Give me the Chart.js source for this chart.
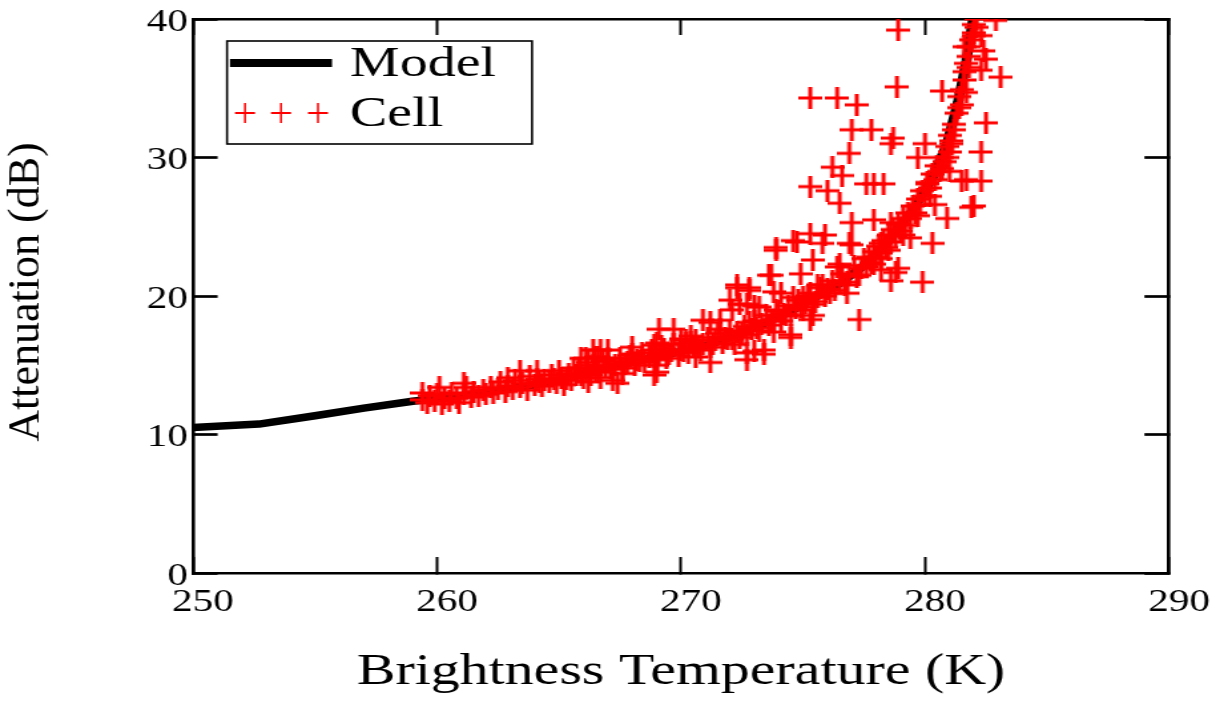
<!DOCTYPE html>
<html>
<head>
<meta charset="utf-8">
<script src="https://cdn.jsdelivr.net/npm/chart.js@4.4.1/dist/chart.umd.min.js"></script>
<style>
html,body{margin:0;padding:0;background:#fff;overflow:hidden;width:1228px;height:703px;}
#c{position:absolute;left:0;top:0;transform-origin:0 0;}
</style>
</head>
<body>
<canvas id="c" width="923" height="703"></canvas>
<script>
// ---------- data ----------
const seriesNames = ['Model', 'Cell'];
const xTitle = 'Brightness Temperature (K)';
const yTitle = 'Attenuation (dB)';
const xTickValues = [250, 260, 270, 280, 290];
const yTickValues = [0, 10, 20, 30, 40];

const modelTemp  = [250, 252.7, 255, 257, 259, 261, 263, 265, 267, 269, 271, 272.5, 273.5, 274.5, 275.5, 276.5, 277.5, 278.5, 279.5, 280.3, 280.9, 281.35, 281.7, 281.97];
const modelAtten = [10.5, 10.75, 11.35, 11.9, 12.4, 12.8, 13.3, 13.9, 14.8, 15.6, 16.4, 17.3, 18.1, 18.9, 19.9, 20.9, 22.2, 24.0, 26.2, 28.5, 31.0, 34.0, 37.0, 40.0];

// cell measurements [temperature K, attenuation dB]
const cellPoints = [
 [259.4,12.5],[259.6,12.3],[259.7,12.8],[259.9,12.4],[260.0,12.9],[260.2,12.2],[260.3,12.6],[260.5,12.4],[260.6,13.0],[260.8,12.6],
 [260.9,12.3],[261.1,12.9],[261.2,13.4],[261.4,12.7],[261.5,13.1],[261.7,12.8],[261.9,13.2],[262.0,12.9],[262.2,13.4],[262.3,13.0],
 [262.5,13.3],[262.6,13.8],[262.8,13.1],[262.9,13.5],[263.1,13.3],[263.2,13.9],[263.4,13.4],[263.5,13.7],[263.7,13.2],[263.8,14.2],
 [264.0,13.6],[264.1,14.0],[264.3,13.5],[264.4,13.9],
 [260.1,13.4],[261.1,13.7],[262.9,14.1],[263.4,14.6],[264.1,14.6],[265.0,14.6],[259.4,13.0],
 [264.6,13.8],[264.7,14.3],[264.9,13.7],[265.1,14.1],[265.2,13.6],[265.4,14.4],[265.5,13.9],[265.7,14.3],[265.8,14.8],[266.0,14.1],
 [266.1,14.6],[266.3,14.3],[266.4,15.0],[266.6,14.5],[266.7,14.1],[266.9,14.9],[267.0,15.3],[267.2,14.7],[267.3,15.0],[267.5,15.5],
 [267.6,14.8],[267.8,15.2],[267.9,15.7],[268.1,15.0],[268.2,15.4],[268.4,15.9],[268.5,15.2],[268.7,15.6],[268.8,16.1],[269.0,15.4],
 [269.1,15.8],[269.3,16.2],[269.4,15.5],[269.6,16.0],[269.7,16.5],[269.9,15.7],[270.0,16.1],[270.2,16.6],[270.3,15.9],[270.5,16.3],
 [270.6,16.8],[270.8,16.1],[270.9,16.5],[271.1,17.0],[271.2,16.3],[271.4,16.8],[271.5,17.3],[271.7,16.6],[271.8,17.0],[272.0,17.5],
 [266.4,16.1],[266.7,16.1],[267.0,16.1],[266.6,15.6],[268.9,14.3],[269.0,14.5],[267.2,13.9],[267.4,13.7],[269.1,17.6],[269.7,17.6],
 [270.9,18.25],[271.6,18.25],[271.2,15.2],[272.7,15.4],[273.4,16.1],[274.5,17.0],[265.9,15.5],[266.2,15.2],[268.0,16.3],[270.4,17.1],
 [272.1,16.9],[272.3,17.4],[272.4,17.0],[272.6,17.8],[272.7,17.2],[272.9,17.6],[273.0,18.2],[273.2,17.5],[273.3,18.0],[273.5,18.6],
 [273.6,17.9],[273.8,18.3],[273.9,19.0],[274.1,18.2],[274.2,18.7],[274.4,19.3],[274.5,18.6],[274.7,19.1],[274.8,19.7],[275.0,19.0],
 [275.1,19.5],[275.3,20.2],[275.4,19.4],[275.6,19.9],[275.7,20.6],[275.9,20.0],[276.0,20.5],[276.2,21.1],[276.3,20.4],[276.5,21.0],
 [276.6,21.6],[276.8,21.0],[276.9,21.5],[277.1,22.2],[277.2,21.4],[277.4,22.0],[277.5,22.7],
 [271.2,18.1],[272.0,19.7],[272.1,19.0],[272.3,20.8],[272.8,20.4],[273.6,21.5],[273.7,21.5],[274.1,20.2],[274.9,21.6],[274.5,17.2],
 [275.3,18.3],[277.3,18.3],[275.4,22.6],[276.4,22.1],[276.5,22.3],[273.9,23.5],[274.75,23.9],[275.3,24.5],[275.8,23.8],[276.9,23.8],
 [278.2,23.8],[280.3,23.8],[273.9,23.3],[272.4,19.4],
 [277.6,22.1],[277.7,22.8],[277.8,22.4],[277.9,23.2],[278.0,22.8],[278.1,23.6],[278.2,23.1],[278.3,24.0],[278.4,23.5],[278.5,24.4],
 [278.6,23.9],[278.7,24.8],[278.8,24.3],[278.9,25.2],[279.0,24.7],[279.1,25.6],[279.2,25.1],[279.3,26.0],[279.4,25.6],[279.5,26.5],
 [279.6,26.0],[279.7,27.0],[279.8,26.6],[279.9,27.6],[280.0,27.2],[280.1,28.1],[280.2,27.8],[280.3,28.8],[280.4,28.4],[280.5,29.4],
 [280.6,29.0],[280.7,30.0],[280.8,29.7],[280.9,30.8],[281.0,30.4],[281.0,31.6],[281.1,31.2],[281.2,32.4],[281.2,32.0],[281.3,33.2],
 [281.4,33.6],[281.4,34.4],[281.5,34.9],[281.6,35.6],[281.6,36.2],[281.7,36.8],[281.8,37.3],[281.8,38.0],[281.9,38.5],[282.0,39.0],
 [282.0,39.6],[282.1,40.0],
 [278.9,39.2],[282.1,39.4],[282.9,39.9],[282.0,38.8],[282.3,38.8],[281.6,38.0],[282.4,37.7],[282.5,37.1],[282.3,36.3],[283.1,35.8],
 [278.85,35.1],[280.7,34.8],[281.7,34.7],[282.5,32.5],[278.6,31.0],[280.0,31.0],[279.7,30.0],[280.9,30.0],[282.3,30.4],[281.5,28.3],
 [282.3,28.3],[280.1,28.2],[278.3,28.1],[276.9,30.3],[276.2,29.3],[276.6,28.7],[275.3,27.9],[276.0,27.6],[277.6,28.1],[277.9,28.1],
 [276.5,26.7],[281.7,28.4],[281.9,26.4],[282.0,26.5],[277.0,25.3],[277.9,25.5],[278.6,25.3],[280.9,25.6],[278.8,21.7],[278.9,22.0],
 [279.9,21.0],[278.6,21.1],[272.3,20.6],[272.8,20.6],[278.2,22.7],
 [277.2,33.8],[276.4,34.3],[275.3,34.3],[277.8,32.0],[277.0,32.0],[278.7,31.4],[274.6,24.0],[275.9,24.4],[277.0,23.7],
 [273.8,20.3],[272.7,19.4],[273.0,19.3],[273.2,19.2],[274.6,19.9],[275.0,19.9],[275.6,20.8],[275.8,20.8],[268.9,16.45],[269.0,16.6],
 [270.0,16.9],[270.2,16.8],[266.1,15.5],[266.5,15.6],[267.0,15.5],[272.7,15.9],[273.0,16.0],[273.4,15.8],
 [264.2,13.8],[264.8,14.0],[265.3,14.0],[265.9,14.3],[266.5,14.6],[267.1,14.8],[267.7,15.1],[268.3,15.3],[268.9,15.6],[269.5,15.8],
 [270.1,16.0],[270.7,16.3],[271.3,16.5],[271.9,16.9],[272.5,17.3],[273.1,17.7],[273.7,18.2],[274.3,18.6],[274.9,19.2],[275.5,19.6],
 [276.1,20.2],[276.7,20.8],[277.3,21.5],[277.9,22.3],[278.5,23.3],[279.1,24.4],[279.7,25.8],[280.2,27.2],[280.7,29.2],[281.1,31.0],
 [281.5,33.8],[281.8,36.5],
 [265.6,14.8],[266.8,15.3],[268.0,15.8],[269.2,16.4],[270.4,16.7],[271.6,17.6],[272.8,18.1],[274.0,18.9],[275.2,20.0],
 [266.2,13.8],[267.6,14.4],[269.0,15.0],[270.6,15.6],[272.2,16.5],[273.8,17.4],[275.4,18.6],[276.8,20.2],[278.2,21.9],[279.4,24.2],
 [280.4,26.6],[281.0,29.0]
];

// ---------- rendering ----------
const S = 1228 / 923;               // horizontal stretch of the reference figure
const canvas = document.getElementById('c');
canvas.style.transform = 'scaleX(' + S + ')';

const SERIF = '"Liberation Serif", "Times New Roman", serif';
Chart.defaults.font.family = SERIF;
Chart.defaults.color = '#000';

// cross marker (vertical bar gets widened by the stretch)
const cross = document.createElement('canvas');
cross.width = 18; cross.height = 22;
(function () {
  const g = cross.getContext('2d');
  g.fillStyle = '#ff0000';
  g.fillRect(0, 9.5, 18, 3);
  g.fillRect(7.5, 0, 3, 22);
})();

const overlay = {
  id: 'overlay',
  afterDraw(chart) {
    const ctx = chart.ctx;
    const ca = chart.chartArea;
    // y axis title, drawn unstretched
    ctx.save();
    ctx.fillStyle = '#000';
    ctx.font = '44px ' + SERIF;
    ctx.textAlign = 'center';
    ctx.textBaseline = 'middle';
    ctx.translate(27 / S, (ca.top + ca.bottom) / 2 - 4);
    ctx.scale(1 / S, 1);
    ctx.rotate(-Math.PI / 2);
    ctx.fillText(yTitle, 0, 0);
    ctx.restore();

    // legend
    const ds = chart.data.datasets;
    const model = ds.find(d => d.label === seriesNames[0]);
    const cell = ds.find(d => d.label === seriesNames[1]);
    ctx.save();
    ctx.fillStyle = '#fff';
    const bx = 227 / S, by = 41, bw = (532 - 227) / S, bh = 103;
    ctx.fillRect(bx, by, bw, bh);
    ctx.strokeStyle = '#000';
    ctx.lineWidth = 1.6;
    ctx.strokeRect(bx, by, bw, bh);
    // model sample
    ctx.strokeStyle = model.borderColor;
    ctx.lineWidth = 8;
    ctx.lineCap = 'butt';
    ctx.beginPath();
    ctx.moveTo(230 / S, 63);
    ctx.lineTo(332 / S, 63);
    ctx.stroke();
    // cell sample: three crosses
    ctx.strokeStyle = cell.borderColor;
    [245, 281, 318].forEach(cx => {
      const x = cx / S, y = 113;
      ctx.lineWidth = 2;
      ctx.beginPath(); ctx.moveTo(x - 7.5, y); ctx.lineTo(x + 7.5, y); ctx.stroke();
      ctx.lineWidth = 1.5;
      ctx.beginPath(); ctx.moveTo(x, y - 10); ctx.lineTo(x, y + 10); ctx.stroke();
    });
    ctx.fillStyle = '#000';
    ctx.font = '42px ' + SERIF;
    ctx.textAlign = 'left';
    ctx.textBaseline = 'alphabetic';
    ctx.fillText(model.label, 350 / S, 76);
    ctx.fillText(cell.label, 350 / S, 126);
    ctx.restore();
  }
};

function zeroPad(s) { s.paddingLeft = 0; s.paddingRight = 0; s.paddingTop = 0; s.paddingBottom = 0; }

const AXW = 2.6;
function edgeAxis(pos, tickLen, tickW, valuesArr) {
  const horiz = pos === 'top' || pos === 'bottom';
  return {
    type: 'linear', position: pos,
    min: valuesArr[0], max: valuesArr[valuesArr.length - 1],
    afterBuildTicks: s => { s.ticks = valuesArr.map(v => ({value: v})); },
    afterFit: s => { if (horiz) s.height = 0; else s.width = 0; zeroPad(s); },
    ticks: {display: false},
    grid: {drawOnChartArea: false, drawTicks: true, tickLength: tickLen, tickWidth: tickW, tickColor: '#000', color: '#000'},
    border: {display: true, color: '#000', width: AXW}
  };
}

new Chart(canvas, {
  type: 'scatter',
  data: {
    datasets: [
      {
        label: seriesNames[1],
        data: cellPoints.map(p => ({x: p[0], y: p[1]})),
        pointStyle: cross,
        pointRadius: 10,
        borderColor: '#ff0000',
        backgroundColor: '#ff0000',
        order: 0
      },
      {
        label: seriesNames[0],
        data: modelTemp.map((t, i) => ({x: t, y: modelAtten[i]})),
        showLine: true,
        pointRadius: 0,
        borderColor: '#000000',
        backgroundColor: '#000000',
        borderWidth: 7.5,
        borderCapStyle: 'butt',
        borderJoinStyle: 'round',
        tension: 0,
        order: 1
      }
    ]
  },
  options: {
    responsive: false,
    devicePixelRatio: 1,
    animation: false,
    events: [],
    layout: {padding: {left: 0, right: 923 - 1169 / S, top: 19, bottom: 0}},
    plugins: {legend: {display: false}, tooltip: {enabled: false}},
    scales: {
      x: {
        type: 'linear', position: 'bottom',
        min: xTickValues[0], max: xTickValues[xTickValues.length - 1],
        afterBuildTicks: s => { s.ticks = xTickValues.map(v => ({value: v})); },
        afterFit: s => { s.height = 130; zeroPad(s); },
        ticks: {font: {size: 31}, color: '#000', padding: 26.9, labelOffset: 7.5, maxRotation: 0, autoSkip: false},
        grid: {drawOnChartArea: false, drawTicks: true, tickLength: -16, tickWidth: 2, tickColor: '#000', color: '#000'},
        border: {display: true, color: '#000', width: AXW},
        title: {display: true, text: xTitle, color: '#000', font: {size: 43.5}, padding: {top: 0, bottom: 4.6}}
      },
      y: {
        type: 'linear', position: 'left',
        min: yTickValues[0], max: yTickValues[yTickValues.length - 1],
        afterBuildTicks: s => { s.ticks = yTickValues.map(v => ({value: v})); },
        afterFit: s => { s.width = 193 / S; zeroPad(s); },
        ticks: {font: {size: 31}, color: '#000', padding: 22.3, labelOffset: 3.5, autoSkip: false},
        grid: {drawOnChartArea: false, drawTicks: true, tickLength: -18.5, tickWidth: 2.7, tickColor: '#000', color: '#000'},
        border: {display: true, color: '#000', width: AXW},
        title: {display: false}
      },
      x2: edgeAxis('top', -16, 2, xTickValues),
      y2: edgeAxis('right', -18.5, 2.7, yTickValues)
    }
  },
  plugins: [overlay]
});
</script>
</body>
</html>
